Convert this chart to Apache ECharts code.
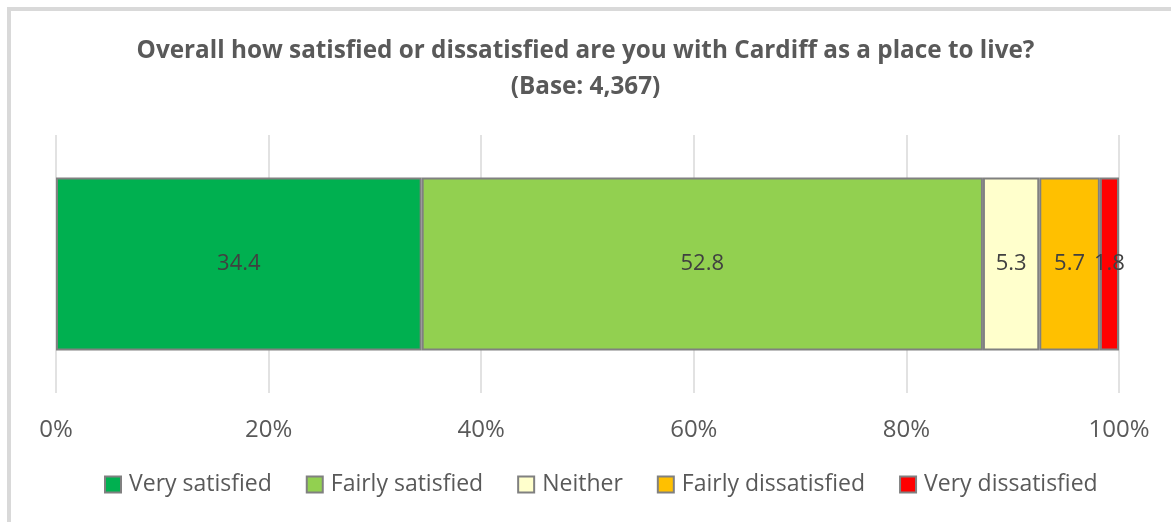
<!DOCTYPE html>
<html>
<head>
<meta charset="utf-8">
<script src="https://cdn.jsdelivr.net/npm/echarts@6/dist/echarts.min.js"></script>
<style>
html,body{margin:0;padding:0;background:#fff;}
#frame{position:absolute;left:7px;top:7px;width:1164px;height:515px;border-top:4px solid #d9d9d9;border-left:4px solid #d9d9d9;box-sizing:border-box;}
#chart{position:absolute;left:0;top:0;width:1171px;height:522px;}
</style>
</head>
<body>
<div id="frame"></div>
<div id="chart"></div>
<script>
const categories = ['Overall'];
const seriesNames = ['Very satisfied', 'Fairly satisfied', 'Neither', 'Fairly dissatisfied', 'Very dissatisfied'];
const seriesValues = [[34.4], [52.8], [5.3], [5.7], [1.8]];
const seriesColors = ['#00b050', '#92d050', '#ffffcc', '#ffc000', '#ff0000'];
const tickLabels = ['0%', '20%', '40%', '60%', '80%', '100%'];

const chart = echarts.init(document.getElementById('chart'), null, {renderer: 'canvas'});
const font = '"Open Sans", sans-serif';
chart.setOption({
  animation: false,
  title: {
    text: 'Overall how satisfied or dissatisfied are you with Cardiff as a place to live?\n(Base: 4,367)',
    left: 'center', top: 28, padding: [5, 5, 5, 39],
    textStyle: {fontFamily: font, fontSize: 24.3, fontWeight: 'bold', color: '#595959', lineHeight: 36}
  },
  legend: {
    top: 473, left: 104, itemWidth: 16, itemHeight: 16, itemGap: 34, padding: 0,
    icon: 'rect',
    textStyle: {fontFamily: font, fontSize: 23, color: '#595959', padding: [0, 0, 0, 3]},
    data: seriesNames.map((n, i) => ({name: n, itemStyle: {color: seriesColors[i], borderColor: '#808080', borderWidth: 2}}))
  },
  grid: {left: 56, right: 52, top: 135, bottom: 129},
  xAxis: {
    type: 'value', min: 0, max: 100, interval: 20,
    axisLine: {show: false}, axisTick: {show: false},
    splitLine: {lineStyle: {color: '#d9d9d9', width: 1.5}},
    axisLabel: {margin: 25, fontFamily: font, fontSize: 24, color: '#595959',
      formatter: v => tickLabels[Math.round(v / 20)]}
  },
  yAxis: {
    type: 'category', data: categories,
    axisLine: {show: false}, axisTick: {show: false}, axisLabel: {show: false}
  },
  series: seriesNames.map((n, i) => ({
    name: n, type: 'bar', stack: 'total', barWidth: 173,
    data: seriesValues[i],
    itemStyle: {color: seriesColors[i], borderColor: '#808080', borderWidth: 2},
    label: {show: true, position: 'inside', fontFamily: font, fontSize: 22, color: '#404040',
      formatter: p => p.value.toFixed(1)}
  }))
});
</script>
</body>
</html>
